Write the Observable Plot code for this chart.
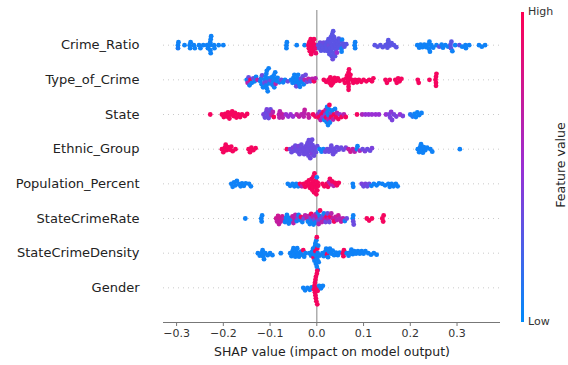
<!DOCTYPE html>
<html><head><meta charset="utf-8">
<script src="https://cdn.jsdelivr.net/npm/d3@7"></script>
<script src="https://cdn.jsdelivr.net/npm/@observablehq/plot@0.6"></script>
<style>
body{margin:0;background:#fff;font-family:"DejaVu Sans",sans-serif;}
#wrap{position:relative;width:568px;height:365px;overflow:hidden;background:#fff;}
#wrap svg{position:absolute;left:0;top:0;}
#cbar{position:absolute;left:521px;top:12px;width:3px;height:310px;}
.cb{position:absolute;font-size:11px;color:#333;line-height:1;}
#cbtitle{position:absolute;left:560px;top:165px;font-size:12.5px;color:#222;white-space:nowrap;transform:translate(-50%,-50%) rotate(-90deg);}
</style></head><body><div id="wrap"></div>
<script>
const features = ["Crime_Ratio","Type_of_Crime","State","Ethnic_Group","Population_Percent","StateCrimeRate","StateCrimeDensity","Gender"];
const xTicks = [-0.3,-0.2,-0.1,0,0.1,0.2,0.3];
const axisTitle = "SHAP value (impact on model output)";
const legendTitle = "Feature value";
const legendLow = "Low", legendHigh = "High";

// [SHAP value, normalized feature value]
const crimeRatio = [
[-0.297,0.05],[-0.296,0.05],[-0.297,0.08],[-0.283,0.05],[-0.272,0.05],[-0.271,0.05],[-0.270,0.05],
[-0.263,0.05],[-0.261,0.05],[-0.252,0.05],[-0.249,0.05],[-0.243,0.05],[-0.235,0.05],[-0.233,0.05],
[-0.228,0.05],[-0.228,0.05],[-0.227,0.05],[-0.227,0.05],[-0.226,0.05],[-0.228,0.05],[-0.220,0.05],[-0.219,0.05],
[-0.210,0.05],[-0.200,0.05],
[-0.065,0.05],[-0.064,0.05],[-0.065,0.05],[-0.043,0.05],[-0.026,0.05],
[-0.018,0.95],[-0.017,0.95],[-0.016,0.95],[-0.015,0.95],[-0.013,0.95],[-0.012,0.95],[-0.011,0.95],[-0.010,0.95],
[-0.008,0.95],[-0.007,0.95],[-0.006,0.95],[-0.004,0.95],[-0.003,0.9],[-0.002,0.9],
[0.003,0.3],[0.005,0.3],[0.007,0.35],[0.009,0.3],[0.011,0.3],[0.013,0.3],[0.015,0.35],[0.017,0.3],[0.019,0.3],
[0.021,0.3],[0.022,0.3],[0.024,0.3],[0.025,0.3],[0.026,0.35],[0.027,0.3],[0.028,0.3],[0.029,0.3],[0.030,0.3],
[0.031,0.3],[0.032,0.3],[0.033,0.3],[0.033,0.3],[0.034,0.3],[0.034,0.35],[0.035,0.3],[0.035,0.3],[0.036,0.3],
[0.037,0.3],[0.038,0.3],[0.039,0.3],[0.040,0.3],[0.041,0.3],[0.042,0.3],[0.043,0.5],[0.045,0.3],[0.046,0.3],
[0.047,0.3],[0.049,0.3],[0.051,0.3],[0.053,0.05],[0.053,0.05],[0.054,0.05],[0.056,0.3],[0.059,0.3],[0.063,0.3],
[0.081,0.05],[0.082,0.05],[0.082,0.05],
[0.124,0.3],[0.130,0.3],[0.136,0.3],[0.141,0.3],[0.147,0.3],[0.151,0.3],[0.152,0.3],[0.153,0.3],[0.156,0.3],
[0.160,0.3],[0.165,0.3],[0.170,0.3],
[0.215,0.05],[0.219,0.05],[0.222,0.05],[0.226,0.05],[0.230,0.05],[0.234,0.05],[0.238,0.05],[0.240,0.05],[0.241,0.05],
[0.242,0.05],[0.245,0.05],[0.249,0.05],[0.256,0.05],[0.262,0.3],[0.267,0.05],[0.270,0.05],[0.275,0.05],[0.281,0.05],
[0.286,0.3],[0.287,0.3],[0.288,0.3],[0.290,0.05],[0.296,0.05],[0.305,0.3],[0.311,0.05],[0.318,0.05],[0.319,0.05],
[0.326,0.05],[0.347,0.05],[0.353,0.05],[0.360,0.05]
];
const typeOfCrime = [
[-0.150,0.05],[-0.148,0.65],[-0.146,0.35],[-0.144,0.05],[-0.142,0.95],[-0.139,0.05],[-0.136,0.35],[-0.133,0.05],
[-0.130,0.05],[-0.127,0.65],[-0.121,0.05],[-0.119,0.05],[-0.118,0.05],[-0.117,0.35],[-0.115,0.05],[-0.112,0.05],
[-0.112,0.35],[-0.110,0.05],[-0.108,0.05],[-0.108,0.05],[-0.107,0.05],[-0.107,0.05],[-0.106,0.35],[-0.105,0.05],
[-0.104,0.05],[-0.103,0.05],[-0.101,0.05],[-0.099,0.35],[-0.097,0.05],[-0.095,0.05],[-0.093,0.05],[-0.092,0.05],
[-0.091,0.05],[-0.091,0.05],[-0.089,0.05],[-0.088,0.65],[-0.086,0.05],
[-0.084,0.05],[-0.080,0.05],[-0.076,0.35],[-0.072,0.05],[-0.068,0.05],[-0.062,0.35],
[-0.055,0.05],[-0.052,0.05],[-0.050,0.05],[-0.048,0.05],[-0.046,0.05],[-0.045,0.05],[-0.044,0.35],[-0.042,0.05],
[-0.040,0.05],[-0.039,0.05],[-0.038,0.05],[-0.036,0.05],[-0.034,0.35],[-0.032,0.05],[-0.030,0.35],[-0.028,0.05],
[-0.026,0.65],[-0.024,0.35],[-0.021,0.35],[-0.018,0.65],[-0.014,0.35],[-0.010,0.65],[-0.006,0.95],[-0.003,0.65],
[0.015,0.95],[0.020,0.95],[0.025,0.95],[0.027,0.95],[0.029,0.95],[0.031,0.95],[0.033,0.95],[0.035,0.95],[0.038,0.95],
[0.041,0.95],[0.045,0.95],[0.049,0.95],[0.057,0.95],[0.060,0.95],[0.063,0.95],[0.065,0.95],[0.067,0.95],[0.068,0.95],
[0.068,0.95],[0.068,0.95],[0.068,0.95],[0.069,0.95],[0.070,0.95],[0.072,0.95],[0.075,0.95],[0.078,0.95],[0.082,0.95],
[0.086,0.95],[0.090,0.95],
[0.095,0.95],[0.100,0.95],[0.106,0.95],[0.112,0.95],[0.118,0.95],[0.121,0.95],[0.147,0.95],[0.150,0.95],[0.156,0.95],
[0.168,0.95],[0.171,0.95],[0.174,0.95],[0.177,0.95],[0.181,0.95],[0.216,0.95],[0.218,0.95],[0.241,0.95],
[0.254,0.95],[0.255,0.95],[0.255,0.95],[0.256,0.95],[0.255,0.95]
];
const state = [
[-0.228,0.95],[-0.203,0.95],[-0.199,0.95],[-0.196,0.95],[-0.192,0.95],[-0.190,0.95],[-0.187,0.95],[-0.184,0.95],
[-0.181,0.95],[-0.178,0.95],[-0.175,0.95],[-0.172,0.95],[-0.168,0.95],[-0.164,0.95],[-0.160,0.95],[-0.154,0.95],[-0.149,0.95],
[-0.114,0.4],[-0.111,0.35],[-0.109,0.35],[-0.107,0.4],[-0.105,0.35],[-0.103,0.35],[-0.101,0.4],[-0.099,0.35],
[-0.097,0.65],[-0.094,0.65],[-0.092,0.95],[-0.081,0.65],[-0.080,0.65],[-0.079,0.65],[-0.074,0.7],[-0.073,0.65],
[-0.066,0.5],[-0.061,0.5],[-0.056,0.5],[-0.051,0.5],[-0.043,0.65],[-0.038,0.7],[-0.033,0.65],[-0.028,0.65],
[-0.027,0.65],[-0.026,0.7],[-0.018,0.7],[-0.017,0.7],[-0.008,0.95],[-0.003,0.95],
[0.002,0.65],[0.004,0.95],[0.006,0.35],[0.008,0.65],[0.010,0.95],[0.012,0.5],[0.014,0.95],[0.016,0.05],[0.018,0.35],
[0.019,0.65],[0.020,0.95],[0.021,0.05],[0.022,0.05],[0.023,0.05],[0.024,0.05],[0.025,0.05],[0.025,0.65],[0.026,0.05],
[0.027,0.95],[0.028,0.05],[0.030,0.35],[0.031,0.95],[0.033,0.05],[0.035,0.65],[0.037,0.95],[0.039,0.05],[0.041,0.95],
[0.043,0.65],[0.046,0.95],[0.049,0.5],[0.053,0.95],[0.058,0.65],[0.062,0.95],
[0.086,0.95],[0.097,0.6],[0.104,0.5],[0.111,0.5],[0.118,0.5],[0.126,0.5],[0.133,0.5],
[0.148,0.5],[0.155,0.4],[0.157,0.4],[0.159,0.45],[0.161,0.4],[0.165,0.4],[0.170,0.4],[0.178,0.5],[0.184,0.4],
[0.200,0.1],[0.205,0.1],[0.209,0.05],[0.212,0.05],[0.215,0.05],[0.219,0.05],[0.224,0.05]
];
const ethnicGroup = [
[-0.203,0.95],[-0.200,0.95],[-0.197,0.95],[-0.195,0.95],[-0.193,0.95],[-0.190,0.95],[-0.186,0.95],[-0.183,0.95],
[-0.180,0.95],[-0.174,0.95],[-0.146,0.95],[-0.143,0.95],[-0.140,0.95],[-0.136,0.95],[-0.131,0.95],[-0.064,0.95],
[-0.057,0.35],[-0.054,0.35],[-0.051,0.4],[-0.048,0.35],[-0.046,0.35],[-0.043,0.35],[-0.041,0.35],[-0.039,0.4],
[-0.037,0.35],[-0.035,0.35],[-0.033,0.35],[-0.031,0.35],[-0.029,0.35],[-0.027,0.35],[-0.025,0.35],[-0.023,0.35],
[-0.021,0.35],[-0.020,0.35],[-0.019,0.35],[-0.018,0.35],[-0.017,0.35],[-0.016,0.35],[-0.015,0.35],[-0.014,0.35],
[-0.013,0.35],[-0.012,0.35],[-0.011,0.4],[-0.010,0.35],[-0.009,0.35],[-0.008,0.35],[-0.006,0.35],[-0.004,0.35],
[-0.002,0.35],[0.001,0.35],[0.006,0.05],[0.010,0.05],[0.014,0.05],[0.018,0.35],
[0.022,0.35],[0.026,0.35],[0.029,0.35],[0.031,0.35],[0.033,0.35],[0.035,0.35],[0.037,0.35],[0.040,0.35],[0.043,0.35],
[0.047,0.35],[0.052,0.35],[0.057,0.35],[0.062,0.4],[0.068,0.7],[0.072,0.75],[0.077,0.7],[0.081,0.65],[0.086,0.05],
[0.087,0.05],[0.092,0.6],[0.098,0.35],[0.103,0.4],[0.108,0.35],[0.114,0.35],[0.118,0.4],
[0.216,0.05],[0.219,0.05],[0.221,0.05],[0.223,0.05],[0.225,0.05],[0.227,0.05],[0.229,0.05],[0.232,0.05],[0.236,0.05],
[0.243,0.05],[0.247,0.05],[0.306,0.05]
];
const populationPercent = [
[-0.183,0.05],[-0.180,0.05],[-0.177,0.05],[-0.174,0.05],[-0.171,0.05],[-0.167,0.05],[-0.163,0.05],[-0.160,0.05],
[-0.156,0.05],[-0.152,0.05],[-0.145,0.05],[-0.141,0.05],[-0.062,0.05],[-0.057,0.05],[-0.052,0.05],[-0.048,0.05],
[-0.044,0.05],[-0.040,0.05],[-0.036,0.95],[-0.032,0.65],[-0.028,0.95],[-0.025,0.95],[-0.022,0.95],
[-0.019,0.95],[-0.017,0.95],[-0.015,0.95],[-0.013,0.95],[-0.011,0.95],[-0.010,0.95],[-0.009,0.95],[-0.008,0.95],
[-0.007,0.95],[-0.006,0.95],[-0.005,0.95],[-0.004,0.95],[-0.003,0.95],[-0.002,0.95],[-0.001,0.95],[0.000,0.05],
[0.001,0.95],[0.002,0.95],[0.003,0.95],
[0.012,0.95],[0.016,0.95],[0.021,0.95],[0.024,0.95],[0.026,0.65],[0.028,0.95],[0.030,0.65],[0.033,0.95],[0.036,0.65],
[0.039,0.95],[0.043,0.95],[0.047,0.95],[0.077,0.05],[0.078,0.05],
[0.096,0.4],[0.100,0.35],[0.104,0.4],[0.108,0.35],[0.112,0.35],[0.117,0.05],[0.122,0.05],[0.128,0.05],[0.133,0.05],
[0.140,0.05],[0.146,0.05],[0.153,0.05],[0.156,0.05],[0.160,0.05],[0.164,0.05],[0.169,0.05],[0.173,0.05]
];
const stateCrimeRate = [
[-0.153,0.05],[-0.119,0.05],[-0.118,0.05],[-0.117,0.05],
[-0.087,0.75],[-0.085,0.7],[-0.083,0.75],[-0.081,0.7],[-0.079,0.75],[-0.077,0.7],[-0.074,0.75],[-0.072,0.65],
[-0.068,0.05],[-0.066,0.05],[-0.064,0.05],[-0.062,0.05],[-0.060,0.05],[-0.058,0.05],[-0.055,0.05],
[-0.052,0.7],[-0.050,0.65],[-0.048,0.7],[-0.046,0.65],[-0.043,0.05],[-0.041,0.35],[-0.039,0.05],[-0.036,0.05],
[-0.034,0.95],[-0.031,0.05],[-0.028,0.35],[-0.025,0.65],
[-0.021,0.7],[-0.019,0.05],[-0.017,0.65],[-0.015,0.05],[-0.013,0.35],[-0.012,0.95],[-0.010,0.05],[-0.008,0.65],
[-0.007,0.05],[-0.005,0.35],[-0.003,0.65],[-0.002,0.05],[0.000,0.7],[0.002,0.05],[0.003,0.35],[0.004,0.65],
[0.006,0.05],[0.007,0.95],[0.009,0.35],[0.011,0.65],[0.013,0.35],[0.015,0.05],[0.017,0.65],[0.019,0.35],[0.021,0.95],
[0.023,0.35],[0.025,0.65],[0.027,0.35],[0.029,0.95],[0.031,0.65],
[0.034,0.7],[0.037,0.95],[0.040,0.7],[0.043,0.65],[0.046,0.75],[0.049,0.65],[0.052,0.7],[0.056,0.65],[0.060,0.05],
[0.064,0.35],[0.077,0.05],[0.078,0.35],[0.078,0.05],[0.079,0.35],
[0.107,0.95],[0.112,0.95],[0.118,0.95],[0.140,0.95],[0.142,0.95],[0.143,0.95]
];
const stateCrimeDensity = [
[-0.126,0.05],[-0.122,0.05],[-0.118,0.05],[-0.116,0.05],[-0.115,0.05],[-0.113,0.05],[-0.110,0.05],[-0.105,0.05],
[-0.100,0.05],[-0.095,0.05],[-0.077,0.05],
[-0.057,0.05],[-0.054,0.05],[-0.052,0.05],[-0.050,0.05],[-0.048,0.05],[-0.046,0.05],[-0.044,0.05],[-0.042,0.05],
[-0.040,0.05],[-0.038,0.05],[-0.035,0.05],[-0.032,0.05],[-0.029,0.95],[-0.027,0.05],[-0.024,0.05],
[-0.016,0.05],[-0.012,0.05],[-0.010,0.05],[-0.008,0.05],[-0.007,0.95],[-0.006,0.05],[-0.005,0.05],[-0.004,0.05],
[-0.003,0.95],[-0.003,0.05],[-0.002,0.05],[-0.001,0.05],[-0.001,0.05],[0.000,0.05],[0.000,0.95],[0.001,0.95],
[0.001,0.05],[0.002,0.05],[0.002,0.05],[0.003,0.05],[0.004,0.05],[0.006,0.05],
[0.012,0.05],[0.015,0.05],[0.018,0.05],[0.020,0.05],[0.022,0.95],[0.024,0.05],[0.026,0.05],[0.028,0.05],[0.031,0.05],
[0.034,0.05],[0.037,0.05],[0.041,0.05],[0.045,0.05],[0.049,0.05],[0.056,0.95],[0.057,0.95],[0.058,0.95],
[0.064,0.05],[0.068,0.05],[0.071,0.05],[0.074,0.05],[0.077,0.05],[0.080,0.05],[0.084,0.05],[0.088,0.05],[0.092,0.05],
[0.096,0.05],[0.100,0.05],[0.104,0.05],[0.110,0.05],[0.116,0.05],[0.122,0.05],[0.128,0.05]
];
const gender = [
[-0.029,0.05],[-0.025,0.05],[-0.020,0.05],[-0.015,0.05],[-0.011,0.05],
[-0.006,0.95],[-0.005,0.95],[-0.004,0.95],[-0.003,0.95],[-0.002,0.95],[-0.001,0.95],[0.000,0.95],[0.001,0.95],
[0.002,0.95],[-0.004,0.95],[-0.002,0.95],[0.000,0.95],[-0.003,0.95],[0.001,0.95],
[0.005,0.05],[0.009,0.05],[0.013,0.05]
];
const series = [crimeRatio, typeOfCrime, state, ethnicGroup, populationPercent, stateCrimeRate, stateCrimeDensity, gender];

const nRows = features.length;
const xDomain = [-0.328, 0.393];
const frame = {left: 163, right: 500, top: 10, bottom: 322};
const colorOpts = {type: "linear", domain: [0, 0.5, 1], range: ["#008bfb", "#9a2fd4", "#ff0052"], interpolate: "rgb"};

// beeswarm layout: each dot takes the free vertical slot nearest its row centre
const xs = Plot.scale({x: {domain: xDomain, range: [frame.left, frame.right]}});
const rowPx = (frame.bottom - frame.top) / (nRows + 1);
const dmin = 3.0, step = 0.5;
const rows = [];
features.forEach((name, i) => {
  const pts = series[i];
  const pos = nRows - 1 - i;
  const order = d3.range(pts.length).sort((a, b) => pts[a][0] - pts[b][0] || a - b);
  const placed = [];
  for (const k of order) {
    const px = xs.apply(pts[k][0]);
    const near = placed.filter(q => Math.abs(q.x - px) < dmin);
    let off = 0;
    for (let j = 0; j < 400; j++) {
      off = Math.ceil(j / 2) * step * (j % 2 ? 1 : -1);
      if (near.every(q => (q.x - px) ** 2 + (q.y - off) ** 2 >= dmin * dmin)) break;
    }
    placed.push({x: px, y: off});
    rows.push({feature: name, shap: pts[k][0], value: pts[k][1], y: pos - off / rowPx});
  }
});

const chart = Plot.plot({
  width: 568, height: 365,
  marginLeft: frame.left, marginRight: 568 - frame.right, marginTop: frame.top, marginBottom: 365 - frame.bottom,
  x: {domain: xDomain},
  y: {domain: [-1, nRows]},
  color: colorOpts,
  style: {fontFamily: "DejaVu Sans, sans-serif", background: "white", color: "#333"},
  marks: [
    Plot.ruleY(d3.range(nRows), {stroke: "#bbb", strokeWidth: 0.8, strokeDasharray: "1,4"}),
    Plot.ruleX([0], {stroke: "#999", strokeWidth: 1.2}),
    Plot.ruleY([-1], {stroke: "#777", strokeWidth: 1}),
    Plot.axisX({ticks: xTicks, tickFormat: d3.format(".1f"), tickSize: 4, tickPadding: 3, fontSize: 11, stroke: "#777", fill: "#333", label: null}),
    Plot.axisY({ticks: d3.range(nRows), tickFormat: i => features[nRows - 1 - i], tickSize: 0, tickPadding: 24, fontSize: 13, fill: "#222", label: null}),
    Plot.dot(rows, {x: "shap", y: "y", fill: "value", r: 2.4}),
    Plot.text([axisTitle], {frameAnchor: "bottom", dy: 33, fontSize: 12.5, fill: "#222"})
  ]
});

const wrap = document.getElementById("wrap");
wrap.appendChild(chart);

// colorbar built from the same color scale
const cs = Plot.scale({color: colorOpts});
const stops = d3.range(0, 1.0001, 0.05).map(t => `${cs.apply(1 - t)} ${(t * 100).toFixed(1)}%`).join(",");
const bar = document.createElement("div");
bar.id = "cbar";
bar.style.background = `linear-gradient(to bottom, ${stops})`;
wrap.appendChild(bar);
const hiL = document.createElement("div"); hiL.className = "cb"; hiL.textContent = legendHigh;
hiL.style.left = "528px"; hiL.style.top = "6px"; wrap.appendChild(hiL);
const loL = document.createElement("div"); loL.className = "cb"; loL.textContent = legendLow;
loL.style.left = "528px"; loL.style.top = "316px"; wrap.appendChild(loL);
const ttl = document.createElement("div"); ttl.id = "cbtitle"; ttl.textContent = legendTitle; wrap.appendChild(ttl);
</script>
</body></html>
